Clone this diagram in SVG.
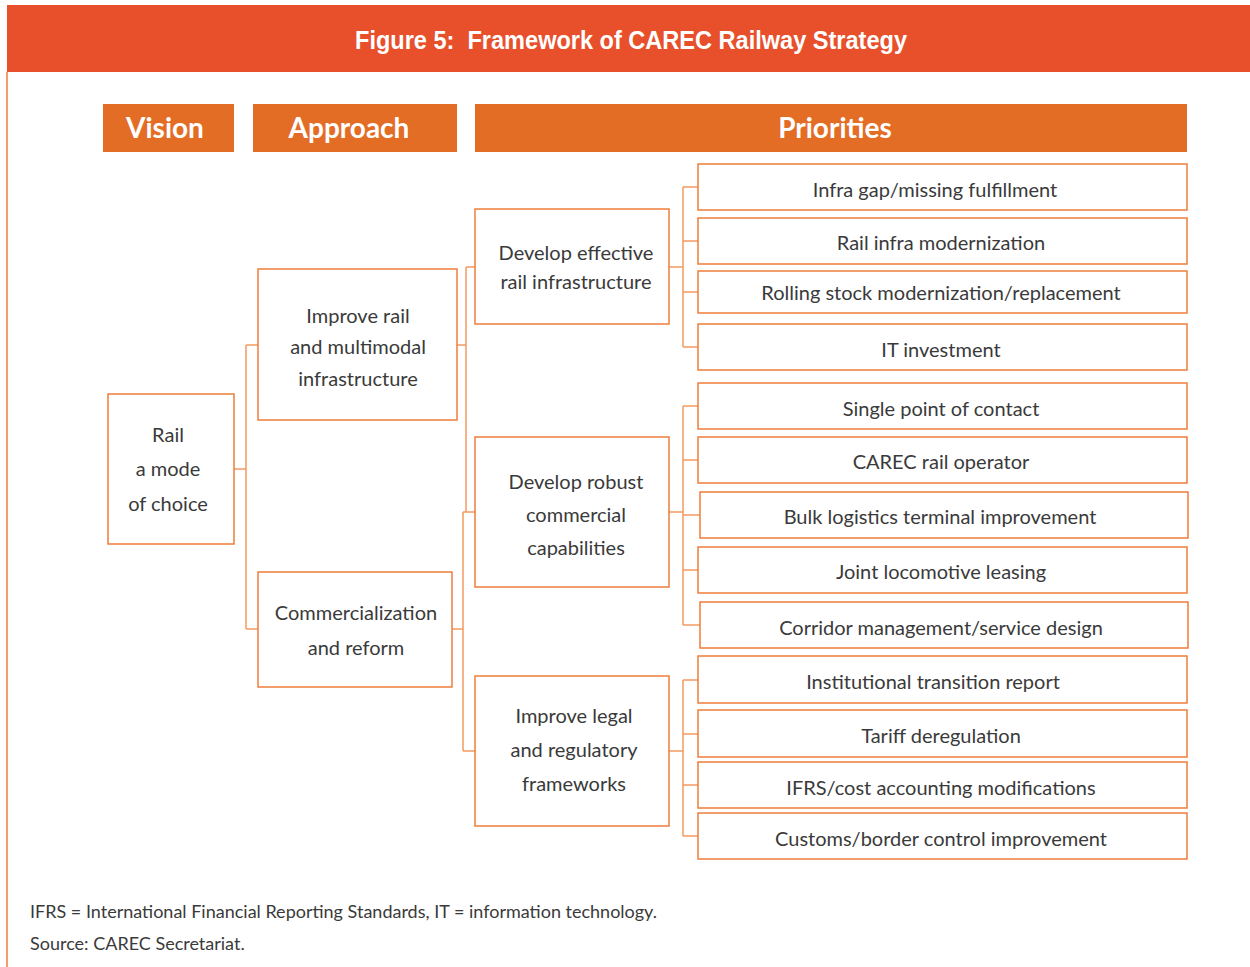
<svg xmlns="http://www.w3.org/2000/svg" width="1250" height="967" viewBox="0 0 1250 967">
  <style>
    .bg { fill: #ffffff; }
    .title-bar { fill: #E8502B; }
    .title { font-family: "Liberation Sans", Arial, sans-serif; font-weight: bold; font-size: 26px; fill: #ffffff; text-anchor: middle; white-space: pre; }
    .head { fill: #E46D26; }
    .head-text { font-family: Lato, "Liberation Sans", sans-serif; font-weight: bold; font-size: 28px; fill: #ffffff; text-anchor: middle; }
    .box { fill: #ffffff; stroke: #EE7D3A; stroke-width: 1.5; }
    .label { font-family: Lato, "Liberation Sans", sans-serif; font-size: 20px; fill: #3a3a3a; text-anchor: middle; }
    .conn { fill: none; stroke: #F29A60; stroke-width: 1.5; }
    .note { font-family: Lato, "Liberation Sans", sans-serif; font-size: 18px; fill: #3a3a3a; }
    .frame { stroke: #EE7D3A; stroke-width: 1.5; }
  </style>

  <rect class="bg" x="0" y="0" width="1250" height="967"/>

  <!-- title banner -->
  <g id="title">
    <rect class="title-bar" x="7" y="5" width="1243" height="67"/>
    <text class="title" x="631" y="49" textLength="552" lengthAdjust="spacingAndGlyphs" xml:space="preserve">Figure 5:  Framework of CAREC Railway Strategy</text>
  </g>
  <line class="frame" x1="7" y1="72" x2="7" y2="967"/>

  <!-- column headers -->
  <g id="header-vision">
    <rect class="head" x="103" y="104" width="131" height="48"/>
    <text class="head-text" x="165" y="138">Vision</text>
  </g>
  <g id="header-approach">
    <rect class="head" x="253" y="104" width="204" height="48"/>
    <text class="head-text" x="349" y="138">Approach</text>
  </g>
  <g id="header-priorities">
    <rect class="head" x="475" y="104" width="712" height="48"/>
    <text class="head-text" x="835" y="138">Priorities</text>
  </g>

  <!-- connectors -->
  <g id="connectors">
    <!-- vision to approaches -->
    <path class="conn" d="M234 469 H246 M246 345 V629 M246 345 H258 M246 629 H258"/>
    <!-- approaches to pillars -->
    <path class="conn" d="M457 345 H466 M466 267 V512 M466 267 H475"/>
    <path class="conn" d="M452 629 H463 M463 512 V751 M463 512 H475 M463 751 H475"/>
    <!-- pillar 1 to priorities -->
    <path class="conn" d="M669 267 H683 M683 187 V347 M683 187 H698 M683 241 H698 M683 292 H698 M683 347 H698"/>
    <!-- pillar 2 to priorities -->
    <path class="conn" d="M669 512 H683 M683 406 V625 M683 406 H698 M683 460 H698 M683 515 H700 M683 570 H698 M683 625 H700"/>
    <!-- pillar 3 to priorities -->
    <path class="conn" d="M669 751 H683 M683 680 V836 M683 680 H698 M683 734 H698 M683 785 H698 M683 836 H698"/>
  </g>

  <!-- vision -->
  <g id="vision-rail">
    <rect class="box" x="108" y="394" width="126" height="150"/>
    <text class="label" x="168" y="442">Rail</text>
    <text class="label" x="168" y="476">a mode</text>
    <text class="label" x="168" y="511">of choice</text>
  </g>

  <!-- approaches -->
  <g id="approach-infra">
    <rect class="box" x="258" y="269" width="199" height="151"/>
    <text class="label" x="358" y="323">Improve rail</text>
    <text class="label" x="358" y="354">and multimodal</text>
    <text class="label" x="358" y="386">infrastructure</text>
  </g>
  <g id="approach-commercial">
    <rect class="box" x="258" y="572" width="194" height="115"/>
    <text class="label" x="356" y="620">Commercialization</text>
    <text class="label" x="356" y="655">and reform</text>
  </g>

  <!-- pillars -->
  <g id="pillar-infra">
    <rect class="box" x="475" y="209" width="194" height="115"/>
    <text class="label" x="576" y="260">Develop effective</text>
    <text class="label" x="576" y="289">rail infrastructure</text>
  </g>
  <g id="pillar-commercial">
    <rect class="box" x="475" y="437" width="194" height="150"/>
    <text class="label" x="576" y="489">Develop robust</text>
    <text class="label" x="576" y="522">commercial</text>
    <text class="label" x="576" y="555">capabilities</text>
  </g>
  <g id="pillar-legal">
    <rect class="box" x="475" y="676" width="194" height="150"/>
    <text class="label" x="574" y="723">Improve legal</text>
    <text class="label" x="574" y="757">and regulatory</text>
    <text class="label" x="574" y="791">frameworks</text>
  </g>

  <!-- priorities -->
  <g id="p-infra-gap">
    <rect class="box" x="698" y="164" width="489" height="46"/>
    <text class="label" x="935" y="197">Infra gap/missing fulfillment</text>
  </g>
  <g id="p-rail-infra">
    <rect class="box" x="698" y="218" width="489" height="46"/>
    <text class="label" x="941" y="250">Rail infra modernization</text>
  </g>
  <g id="p-rolling-stock">
    <rect class="box" x="698" y="271" width="489" height="42"/>
    <text class="label" x="941" y="300">Rolling stock modernization/replacement</text>
  </g>
  <g id="p-it">
    <rect class="box" x="698" y="324" width="489" height="46"/>
    <text class="label" x="941" y="357">IT investment</text>
  </g>
  <g id="p-single-point">
    <rect class="box" x="698" y="383" width="489" height="46"/>
    <text class="label" x="941" y="416">Single point of contact</text>
  </g>
  <g id="p-operator">
    <rect class="box" x="698" y="437" width="489" height="46"/>
    <text class="label" x="941" y="469">CAREC rail operator</text>
  </g>
  <g id="p-bulk">
    <rect class="box" x="700" y="492" width="488" height="46"/>
    <text class="label" x="940" y="524">Bulk logistics terminal improvement</text>
  </g>
  <g id="p-locomotive">
    <rect class="box" x="698" y="547" width="489" height="46"/>
    <text class="label" x="941" y="579">Joint locomotive leasing</text>
  </g>
  <g id="p-corridor">
    <rect class="box" x="700" y="602" width="488" height="46"/>
    <text class="label" x="941" y="635">Corridor management/service design</text>
  </g>
  <g id="p-institutional">
    <rect class="box" x="698" y="656" width="489" height="47"/>
    <text class="label" x="933" y="689">Institutional transition report</text>
  </g>
  <g id="p-tariff">
    <rect class="box" x="698" y="710" width="489" height="47"/>
    <text class="label" x="941" y="743">Tariff deregulation</text>
  </g>
  <g id="p-ifrs">
    <rect class="box" x="698" y="762" width="489" height="46"/>
    <text class="label" x="941" y="795">IFRS/cost accounting modifications</text>
  </g>
  <g id="p-customs">
    <rect class="box" x="698" y="813" width="489" height="46"/>
    <text class="label" x="941" y="846">Customs/border control improvement</text>
  </g>

  <!-- notes -->
  <g id="notes">
    <text class="note" x="30" y="918">IFRS = International Financial Reporting Standards, IT = information technology.</text>
    <text class="note" x="30" y="950">Source: CAREC Secretariat.</text>
  </g>
</svg>
